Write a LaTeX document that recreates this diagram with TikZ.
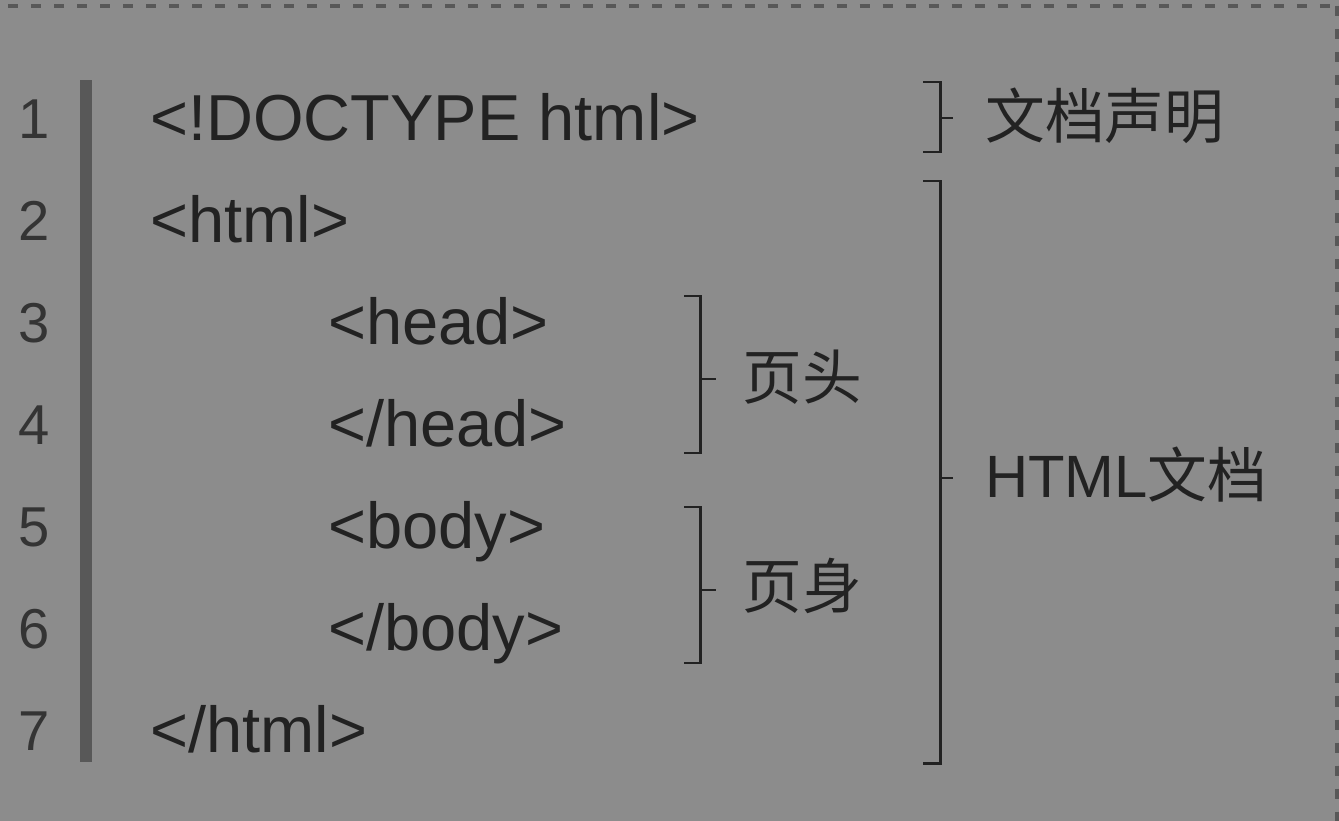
\documentclass[tikz,border=0pt]{standalone}
\usepackage{fontspec}
\setmainfont{Liberation Sans}
\newfontfamily\cjk{Noto Sans CJK SC}
\usepackage{tikz}
\usetikzlibrary{calc,positioning}
\definecolor{bggray}{RGB}{140,140,140}
\definecolor{ink}{RGB}{34,34,34}
\definecolor{numgray}{RGB}{52,52,52}
\definecolor{bargray}{RGB}{88,88,88}

\begin{document}
\begin{tikzpicture}[x=0.02cm,y=-0.02cm,
    code/.style={anchor=base west,inner sep=0pt,text=ink,font=\fontsize{37}{42}\selectfont},
    lineno/.style={anchor=base,inner sep=0pt,text=numgray,font=\fontsize{32}{36}\selectfont},
    tag/.style={anchor=west,inner sep=0pt,text=ink,font=\cjk\fontsize{34}{40}\selectfont},
    bracket/.style={draw=ink,line width=1.7pt}]
            % Background and frame
            \fill[bggray] (0,0) rectangle (1339,821);
            \useasboundingbox (0,0) rectangle (1339,821);
            \draw[bargray,line width=2.2pt,dash pattern=on 5.7pt off 7.4pt] (8,6) -- (1339,6);
            \draw[bargray,line width=2.2pt,dash pattern=on 5.7pt off 7.4pt] (1337,6) -- (1337,821);
            % Gutter bar
            \fill[bargray] (80,80) rectangle (92,762);
            % Line numbers
            \foreach \n in {1,...,7}
              \node[lineno] (num\n) at (34,{138+(\n-1)*102}) {\n};
            % Code lines
            \node[code] (doctype) at (150,140) {<!DOCTYPE html>};
            \node[code] (htmlopen) at (150,242) {<html>};
            \node[code] (headopen) at (328,344) {<head>};
            \node[code] (headclose) at (328,446) {</head>};
            \node[code] (bodyopen) at (328,548) {<body>};
            \node[code] (bodyclose) at (328,650) {</body>};
            \node[code] (htmlclose) at (150,752) {</html>};
            % Labels
            \node[tag] (decl) at (985,116) {文档声明};
            \node[tag] (doc) at (985,475) {{\rmfamily HTML}文档};
            \node[tag] (head) at (742,377) {页头};
            \node[tag] (body) at (742,586) {页身};
            % Brackets
            \draw[bracket] (923,82) -- (940,82) -- (940,152) -- (923,152);
            \draw[bracket] (940,118) -- (953,118);
            \draw[bracket] (923,181) -- (940,181) -- (940,763) -- (923,763);
            \draw[bracket] (940,478) -- (953,478);
            \draw[bracket] (684,296) -- (700,296) -- (700,453) -- (684,453);
            \draw[bracket] (700,379) -- (716,379);
            \draw[bracket] (684,507) -- (700,507) -- (700,663) -- (684,663);
            \draw[bracket] (700,590) -- (716,590);
\end{tikzpicture}
\end{document}
